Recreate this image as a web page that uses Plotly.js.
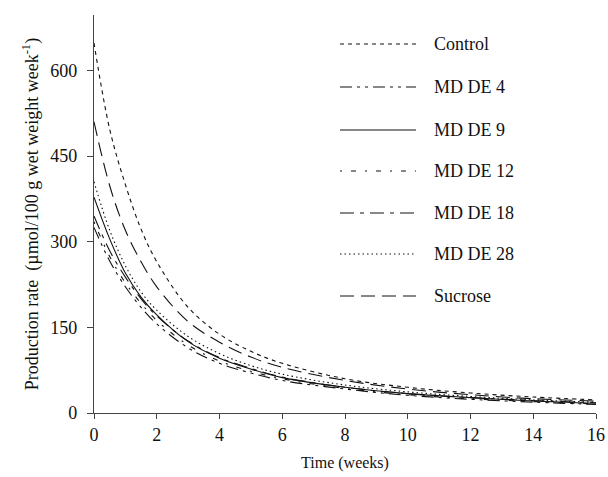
<!DOCTYPE html>
<html>
<head>
<meta charset="utf-8">
<script src="https://cdn.plot.ly/plotly-2.35.2.min.js"></script>
<style>html,body{margin:0;padding:0;background:#fff;}#chart{width:608px;height:477px;}</style>
</head>
<body>
<div id="chart"></div>
<script>
// Time points (weeks)
const weeks = [0, 0.5, 1, 1.5, 2, 3, 4, 5, 6, 8, 10, 12, 14, 16];

// Series values (µmol/100 g wet weight week^-1)
const control = [648, 497, 400, 322, 265, 185, 138, 108, 87, 60, 45, 35, 28, 23];
const mdDE4   = [325, 266, 221, 185, 156, 114, 87, 70, 57, 42, 31, 24, 19, 15];
const mdDE9   = [378, 305, 245, 203, 172, 125, 96, 77, 62, 45, 34, 27, 21, 17];
const mdDE12  = [335, 274, 228, 192, 162, 119, 91, 73, 60, 43, 32, 25, 20, 16];
const mdDE18  = [345, 284, 238, 200, 170, 126, 97, 78, 63, 45, 34, 27, 22, 18];
const mdDE28  = [405, 320, 258, 212, 180, 134, 104, 83, 68, 49, 37, 29, 23, 19];
const sucrose = [510, 398, 320, 265, 221, 160, 124, 98, 80, 57, 42, 32, 25, 21];

const seriesNames = ["Control", "MD DE 4", "MD DE 9", "MD DE 12", "MD DE 18", "MD DE 28", "Sucrose"];
const seriesValues = [control, mdDE4, mdDE9, mdDE12, mdDE18, mdDE28, sucrose];
const seriesDash = ["4px,4px", "12px,5px,3px,5px,3px,5px", "solid", "2px,9px,5px,9px", "14px,6px,4px,6px", "1.5px,3px", "14px,7px"];

const yTicks = [0, 150, 300, 450, 600];
const xTicks = [0, 2, 4, 6, 8, 10, 12, 14, 16];

const traces = seriesNames.map((n, i) => ({
  x: weeks, y: seriesValues[i], name: n, type: "scatter", mode: "lines",
  line: {color: "#111", width: 1.1, dash: seriesDash[i], shape: "spline", smoothing: 1},
  showlegend: false, hoverinfo: "skip"
}));

// Custom legend (samples + labels) in paper coordinates
const L = 94, R = 596, T = 15, B = 413;
const px2x = p => (p - L) / (R - L);
const py2y = p => (B - p) / (B - T);
const rowY = [44, 87, 130, 171, 213, 254, 296];
const serif = "'Liberation Serif', 'Times New Roman', serif";
const shapes = [], annotations = [];
seriesNames.forEach((n, i) => {
  shapes.push({type: "line", xref: "paper", yref: "paper",
    x0: px2x(340), x1: px2x(416), y0: py2y(rowY[i]), y1: py2y(rowY[i]),
    line: {color: "#111", width: 1, dash: seriesDash[i]}});
  annotations.push({xref: "paper", yref: "paper", x: px2x(432), y: py2y(rowY[i]),
    xanchor: "left", yanchor: "middle", text: n, showarrow: false,
    font: {family: serif, size: 18, color: "#111"}});
});

const tickFont = {family: serif, size: 18, color: "#111"};
const layout = {
  width: 608, height: 477,
  margin: {l: L, r: 608 - R, t: T, b: 477 - B},
  paper_bgcolor: "#fff", plot_bgcolor: "#fff",
  font: tickFont,
  xaxis: {range: [0, 16], tickvals: xTicks, ticktext: xTicks.map(String), ticks: "outside", ticklen: 5,
    tickcolor: "#444", showline: true, linecolor: "#444", linewidth: 1.2, showgrid: false, zeroline: false,
    tickfont: tickFont, title: {text: "Time (weeks)", font: {family: serif, size: 16, color: "#111"}, standoff: 13}},
  yaxis: {range: [0, 697], tickvals: yTicks, ticktext: yTicks.map(String), ticks: "outside", ticklen: 6,
    ticklabelstandoff: 6,
    tickcolor: "#444", showline: true, linecolor: "#444", linewidth: 1.2, showgrid: false, zeroline: false,
    tickfont: tickFont,
    title: {text: "Production rate  (µmol/100 g wet weight week<sup>-1</sup>)", font: {family: serif, size: 18, color: "#111"}, standoff: 7}},
  shapes: shapes, annotations: annotations, showlegend: false
};

Plotly.newPlot("chart", traces, layout, {displayModeBar: false, staticPlot: true});
</script>
</body>
</html>
